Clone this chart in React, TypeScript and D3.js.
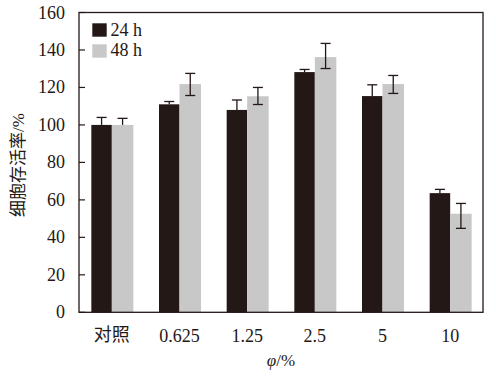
import React from "react";
import * as d3 from "d3";

const categories = ["对照", "0.625", "1.25", "2.5", "5", "10"];
const series = ["24 h", "48 h"];
const values24 = [100, 111, 108, 128.2, 115.4, 63.6];
const values48 = [100, 121.8, 115.3, 136.2, 121.8, 52.6];
const errUp24 = [4, 1.5, 5.3, 1.4, 6, 2];
const errUp48 = [3.5, 5.7, 4.7, 7.3, 4.6, 5.5];
const errDown48 = [0, 6.1, 4.4, 6.1, 5, 7.8];
const yTicks = [0, 20, 40, 60, 80, 100, 120, 140, 160];

const W = 496;
const H = 377;
const frame = { left: 79, right: 483, top: 12.5, bottom: 312.3 };
const ink = "#231815";
const grey = "#c8c8c8";
const serif = "'Liberation Serif', 'Times New Roman', serif";
const cjk = "'Noto Sans CJK SC', sans-serif";

export default function App() {
  const y = d3.scaleLinear().domain([0, 160]).range([frame.bottom, frame.top]);
  const x = d3.scaleBand<string>().domain(categories).range([78, 484]).padding(0);
  const bwBlack = 20.5;
  const bwGrey = 21.5;
  const cap = 10;

  return (
    <svg width={W} height={H} style={{ position: "absolute", left: 0, top: 0, background: "#fff" }}>
      {/* bars */}
      {categories.map((c, i) => {
        const cx = (x(c) as number) + x.bandwidth() / 2;
        return (
          <g key={c}>
            <rect x={cx - bwBlack} y={y(values24[i])} width={bwBlack} height={y(0) - y(values24[i])} fill={ink} />
            <rect x={cx} y={y(values48[i])} width={bwGrey} height={y(0) - y(values48[i])} fill={grey} />
            <g stroke={ink} strokeWidth={1.3}>
              <line x1={cx - bwBlack / 2} x2={cx - bwBlack / 2} y1={y(values24[i])} y2={y(values24[i] + errUp24[i])} />
              <line x1={cx - bwBlack / 2 - cap / 2} x2={cx - bwBlack / 2 + cap / 2} y1={y(values24[i] + errUp24[i])} y2={y(values24[i] + errUp24[i])} />
              <line x1={cx + bwGrey / 2} x2={cx + bwGrey / 2} y1={y(values48[i] - errDown48[i])} y2={y(values48[i] + errUp48[i])} />
              <line x1={cx + bwGrey / 2 - cap / 2} x2={cx + bwGrey / 2 + cap / 2} y1={y(values48[i] + errUp48[i])} y2={y(values48[i] + errUp48[i])} />
              {errDown48[i] > 0 && (
                <line x1={cx + bwGrey / 2 - cap / 2} x2={cx + bwGrey / 2 + cap / 2} y1={y(values48[i] - errDown48[i])} y2={y(values48[i] - errDown48[i])} />
              )}
            </g>
          </g>
        );
      })}
      {/* frame */}
      <rect x={frame.left} y={frame.top} width={frame.right - frame.left} height={frame.bottom - frame.top} fill="none" stroke={ink} strokeWidth={1.3} />
      {/* y ticks */}
      {yTicks.map((t) => (
        <g key={t}>
          <line x1={frame.left} x2={frame.left + 6} y1={y(t)} y2={y(t)} stroke={ink} strokeWidth={1.2} />
          <text x={65} y={y(t) + 6} textAnchor="end" fontFamily={serif} fontSize={18} fill={ink}>
            {t}
          </text>
        </g>
      ))}
      {/* x labels */}
      {categories.map((c) => (
        <text
          key={c}
          x={(x(c) as number) + x.bandwidth() / 2}
          y={c === "对照" ? 341 : 342}
          textAnchor="middle"
          fontFamily={c === "对照" ? cjk : serif}
          fontSize={18}
          fill={ink}
        >
          {c}
        </text>
      ))}
      {/* x title */}
      <text x={281} y={366} textAnchor="middle" fontFamily={serif} fontSize={17} fill={ink}>
        <tspan fontStyle="italic">φ</tspan>/%
      </text>
      {/* y title */}
      <text transform={`translate(24,165) rotate(-90)`} textAnchor="middle" fontSize={17} fill={ink}>
        <tspan fontFamily={cjk}>细胞存活率</tspan>
        <tspan fontFamily={serif}>/%</tspan>
      </text>
      {/* legend */}
      {series.map((s, i) => (
        <g key={s}>
          <rect x={92.3} y={23.3 + i * 21} width={14.4} height={13.4} fill={i === 0 ? ink : grey} />
          <text x={110.5} y={35.7 + i * 20.5} fontFamily={serif} fontSize={18} fill={ink}>
            {s}
          </text>
        </g>
      ))}
    </svg>
  );
}
